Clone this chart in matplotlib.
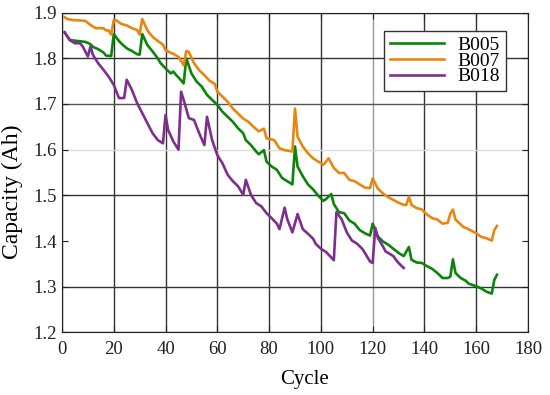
import matplotlib
matplotlib.use("Agg")
import matplotlib.pyplot as plt

plt.rcParams['font.family'] = ['Liberation Serif', 'DejaVu Serif']
plt.rcParams['mathtext.fontset'] = 'stix'

# capacity readings (cycle, Ah)
b005_cycle = [1, 3, 6, 9, 11, 12, 14, 16, 17, 19, 20, 22, 23, 25, 27, 29, 30, 31, 33, 35,
              37, 38, 40, 42, 43, 44, 46, 47, 48, 50, 52, 54, 56, 58, 60, 62, 64, 66, 68, 70,
              71, 73, 75, 76, 78, 79, 81, 83, 85, 87, 89, 90, 91, 93, 95, 97, 99, 101, 102, 104,
              105, 107, 109, 111, 113, 115, 117, 119, 120, 122, 124, 126, 128, 130, 132, 134, 135, 137, 139, 141,
              143, 145, 147, 149, 150, 151, 152, 154, 156, 157, 160, 162, 164, 166, 167, 168]
b005_cap = [1.857, 1.840, 1.838, 1.836, 1.831, 1.825, 1.820, 1.813, 1.806, 1.805, 1.853, 1.838, 1.832, 1.822, 1.816, 1.809, 1.808, 1.853, 1.829, 1.815,
            1.800, 1.790, 1.778, 1.767, 1.771, 1.764, 1.752, 1.745, 1.800, 1.767, 1.749, 1.738, 1.720, 1.709, 1.698, 1.683, 1.672, 1.661, 1.647, 1.636,
            1.621, 1.610, 1.596, 1.590, 1.599, 1.574, 1.563, 1.556, 1.538, 1.531, 1.524, 1.607, 1.563, 1.542, 1.524, 1.513, 1.499, 1.488, 1.492, 1.503,
            1.481, 1.463, 1.461, 1.445, 1.438, 1.424, 1.417, 1.412, 1.438, 1.410, 1.399, 1.392, 1.383, 1.374, 1.367, 1.387, 1.359, 1.353, 1.352, 1.345,
            1.339, 1.330, 1.319, 1.319, 1.322, 1.360, 1.330, 1.319, 1.313, 1.307, 1.301, 1.296, 1.289, 1.285, 1.315, 1.326]

b007_cycle = [1, 2, 4, 9, 11, 13, 16, 17, 18, 19, 20, 21, 23, 25, 27, 29, 30, 31, 33, 35,
              37, 39, 40, 42, 43, 45, 47, 48, 49, 51, 53, 55, 57, 59, 60, 62, 64, 66, 68, 70,
              72, 74, 76, 78, 79, 82, 84, 86, 89, 90, 91, 93, 95, 97, 99, 101, 103, 105, 107, 109,
              111, 113, 115, 117, 119, 120, 122, 124, 126, 128, 130, 132, 133, 134, 135, 137, 139, 141, 143, 145,
              147, 149, 150, 151, 152, 155, 157, 160, 162, 164, 166, 167, 168]
b007_cap = [1.890, 1.886, 1.884, 1.882, 1.873, 1.866, 1.866, 1.861, 1.861, 1.852, 1.884, 1.883, 1.875, 1.872, 1.866, 1.862, 1.852, 1.886, 1.861, 1.847,
            1.838, 1.830, 1.818, 1.812, 1.810, 1.803, 1.785, 1.816, 1.814, 1.789, 1.774, 1.763, 1.751, 1.744, 1.727, 1.716, 1.705, 1.690, 1.679, 1.668,
            1.661, 1.650, 1.640, 1.646, 1.625, 1.621, 1.603, 1.599, 1.596, 1.690, 1.628, 1.607, 1.592, 1.581, 1.574, 1.567, 1.581, 1.560, 1.549, 1.549,
            1.534, 1.531, 1.524, 1.517, 1.516, 1.537, 1.515, 1.504, 1.496, 1.490, 1.484, 1.479, 1.479, 1.497, 1.479, 1.472, 1.469, 1.458, 1.450, 1.447,
            1.438, 1.440, 1.460, 1.469, 1.447, 1.431, 1.426, 1.417, 1.409, 1.406, 1.401, 1.424, 1.433]

b018_cycle = [1, 3, 5, 7, 8, 10, 11, 12, 14, 16, 18, 20, 22, 24, 25, 27, 29, 31, 33, 35,
              37, 39, 40, 41, 43, 45, 46, 47, 49, 51, 53, 55, 56, 58, 60, 62, 64, 66, 68, 70,
              71, 73, 75, 77, 79, 81, 83, 84, 86, 87, 89, 91, 93, 95, 97, 98, 100, 102, 105, 106,
              108, 110, 112, 114, 116, 117, 119, 120, 121, 122, 124, 125, 126, 128, 129, 130, 132]
b018_cap = [1.857, 1.840, 1.833, 1.833, 1.826, 1.804, 1.826, 1.807, 1.789, 1.775, 1.760, 1.742, 1.713, 1.713, 1.753, 1.731, 1.702, 1.680, 1.658, 1.636,
            1.621, 1.614, 1.676, 1.643, 1.618, 1.600, 1.727, 1.709, 1.669, 1.665, 1.636, 1.610, 1.672, 1.621, 1.588, 1.570, 1.545, 1.531, 1.520, 1.501,
            1.534, 1.501, 1.483, 1.476, 1.461, 1.450, 1.438, 1.426, 1.473, 1.448, 1.419, 1.459, 1.426, 1.416, 1.405, 1.394, 1.383, 1.376, 1.358, 1.463,
            1.448, 1.419, 1.401, 1.394, 1.383, 1.374, 1.355, 1.352, 1.429, 1.407, 1.388, 1.377, 1.374, 1.367, 1.359, 1.352, 1.341]

x_ticks = [0, 20, 40, 60, 80, 100, 120, 140, 160, 180]
y_ticks = [1.2, 1.3, 1.4, 1.5, 1.6, 1.7, 1.8, 1.9]

fig = plt.figure(figsize=(5.5, 3.95), dpi=100)
ax = fig.add_axes([0.1127, 0.1585, 0.8473, 0.8095])

ax.plot(b005_cycle, b005_cap, color='#0a850a', lw=1.9, label='B005', zorder=3)
ax.plot(b007_cycle, b007_cap, color='#e8870e', lw=1.9, label='B007', zorder=3)
ax.plot(b018_cycle, b018_cap, color='#7e2f8e', lw=1.9, label='B018', zorder=3)

ax.set_xlim(0, 180)
ax.set_ylim(1.2, 1.9)
ax.set_xticks(x_ticks)
ax.set_yticks(y_ticks)
ax.set_yticklabels([f'{v:.1f}' for v in y_ticks])
ax.tick_params(direction='in', top=True, right=True, length=4, labelsize=13.5, colors='#222222')
ax.tick_params(axis='y', pad=4)
ax.tick_params(axis='x', pad=6)

# grid lines (their shades vary in the reference)
ax.grid(True, color='#333333', lw=1.0)
for gl, c in zip(ax.xaxis.get_gridlines(), ['#333333'] * 6 + ['#999999'] + ['#333333'] * 3):
    gl.set_color(c)
ycols = ['#333333', '#333333', 'none', '#333333', '#dddddd', '#555555', '#333333', '#333333']
for gl, c in zip(ax.yaxis.get_gridlines(), ycols):
    gl.set_color(c)
ax.set_axisbelow(True)
for s in ax.spines.values():
    s.set_color('#222222')

ax.set_xlabel('Cycle', fontsize=15)
ax.xaxis.set_label_coords(0.521, -0.117)
ax.set_ylabel('Capacity (Ah)', fontsize=17)
ax.yaxis.set_label_coords(-0.084, 0.44)

leg = ax.legend(loc='upper right', bbox_to_anchor=(506 / 550, 1 - 30.7 / 395),
                bbox_transform=fig.transFigure, borderaxespad=0, fontsize=14,
                fancybox=False, framealpha=1, edgecolor='#333333',
                handlelength=2.8, handletextpad=0.7, labelspacing=-0.1, borderpad=0.3)
leg.get_frame().set_linewidth(1.0)

fig.savefig('out.png', dpi=100)
